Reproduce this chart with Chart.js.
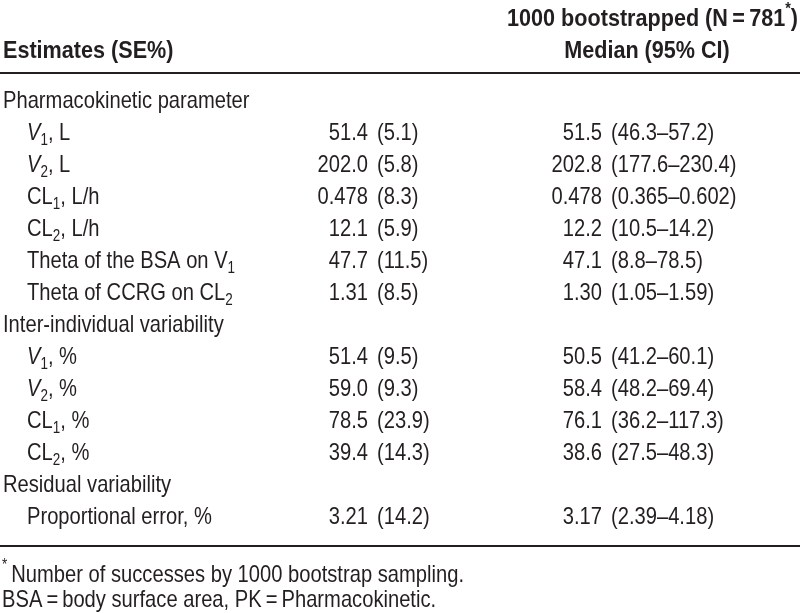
<!DOCTYPE html>
<html>
<head>
<meta charset="utf-8">
<script src="https://cdn.jsdelivr.net/npm/chart.js@4"></script>
<style>
  html, body { margin: 0; padding: 0; background: #fff; }
  #tbl { display: block; }
</style>
</head>
<body>
<canvas id="tbl" width="800" height="613"></canvas>
<script>
// ===== DATA =====
// row label segments: [text, style] style: i = italic, s = subscript
const rowLabels = [
  [["Pharmacokinetic parameter"]],
  [["V", "i"], ["1", "s"], [", L"]],
  [["V", "i"], ["2", "s"], [", L"]],
  [["CL"], ["1", "s"], [", L/h"]],
  [["CL"], ["2", "s"], [", L/h"]],
  [["Theta of the BSA on V"], ["1", "s"]],
  [["Theta of CCRG on CL"], ["2", "s"]],
  [["Inter-individual variability"]],
  [["V", "i"], ["1", "s"], [", %"]],
  [["V", "i"], ["2", "s"], [", %"]],
  [["CL"], ["1", "s"], [", %"]],
  [["CL"], ["2", "s"], [", %"]],
  [["Residual variability"]],
  [["Proportional error, %"]]
];
const isGroup   = [true, false, false, false, false, false, false, true, false, false, false, false, true, false];
const estimates = [null, 51.4, 202.0, 0.478, 12.1, 47.7, 1.31, null, 51.4, 59.0, 78.5, 39.4, null, 3.21];
const estSE     = [null, 5.1, 5.8, 8.3, 5.9, 11.5, 8.5, null, 9.5, 9.3, 23.9, 14.3, null, 14.2];
const medians   = [null, 51.5, 202.8, 0.478, 12.2, 47.1, 1.30, null, 50.5, 58.4, 76.1, 38.6, null, 3.17];
const ciLow     = [null, 46.3, 177.6, 0.365, 10.5, 8.8, 1.05, null, 41.2, 48.2, 36.2, 27.5, null, 2.39];
const ciHigh    = [null, 57.2, 230.4, 0.602, 14.2, 78.5, 1.59, null, 60.1, 69.4, 117.3, 48.3, null, 4.18];
const decimals  = [0, 1, 1, 3, 1, 1, 2, 0, 1, 1, 1, 1, 0, 2];

const colHeads = ["Estimates (SE%)", "1000 bootstrapped (N\u2009=\u2009781", "Median (95% CI)"];
const footnotes = ["Number of successes by 1000 bootstrap sampling.", "BSA\u2009=\u2009body surface area, PK\u2009=\u2009Pharmacokinetic."];

// ===== LAYOUT =====
const FONT = '"Liberation Sans", Arial, sans-serif';
const SIZE = 24;
const SQUEEZE = 0.84;        // narrow the face so it reads like a condensed grotesque
const SQUEEZE_BOLD = 0.9;
const ROW_H = 32;
const FIRST_ROW = 99;
const COL_X = [3, 27, 377, 611];   // group label, indented label, "(" of col 2, "(" of col 3
const GAP = 9;

function fnt(style, size) {
  const it = style.includes("i") ? "italic " : "";
  const b = style.includes("b") ? "bold " : "";
  return it + b + size + "px " + FONT;
}

function segWidth(ctx, segs, base, sq) {
  let w = 0;
  segs.forEach(([t, st]) => {
    const small = st.includes("s") || st.includes("u");
    ctx.font = fnt(st, small ? Math.round(base * 0.68) : base);
    w += ctx.measureText(t).width;
  });
  return w * sq;
}
// draws rich text centred vertically on y; returns width
function drawSegs(ctx, segs, x, y, base, align, bold) {
  segs = segs.map(([t, st]) => [t, (st || "") + (bold ? "b" : "")]);
  const sq = bold ? SQUEEZE_BOLD : SQUEEZE;
  const w = segWidth(ctx, segs, base, sq);
  const cx = align === "right" ? x - w : align === "center" ? x - w / 2 : x;
  ctx.save();
  ctx.translate(cx, y);
  ctx.scale(sq, 1);
  ctx.textAlign = "left";
  ctx.textBaseline = "alphabetic";
  let px = 0;
  segs.forEach(([t, st]) => {
    const sub = st.includes("s"), sup = st.includes("u");
    const size = sub || sup ? Math.round(base * 0.68) : base;
    ctx.font = fnt(st, size);
    const dy = sub ? base * 0.22 : sup ? -base * 0.5 : 0;
    ctx.fillText(t, px, base * 0.36 + dy);
    px += ctx.measureText(t).width;
  });
  ctx.restore();
  return w;
}
function fmt(v, d) { return v.toFixed(d); }

// value "(…)" pair aligned on the opening bracket at x
function drawPair(ctx, num, paren, x, y) {
  drawSegs(ctx, [[num]], x - GAP, y, SIZE, "right");
  drawSegs(ctx, [[paren]], x, y, SIZE, "left");
}

const tablePlugin = {
  id: "tablePlugin",
  afterDatasetsDraw(chart) {
    const ctx = chart.ctx;
    const ys = chart.scales.y;
    const area = chart.chartArea;
    ctx.fillStyle = "#231f20";
    ctx.strokeStyle = "#231f20";

    // header
    const h1 = area.top - 66, h2 = area.top - 34;
    drawSegs(ctx, [[colHeads[0]]], COL_X[0], h2, SIZE, "left", true);
    drawSegs(ctx, [[colHeads[1]], ["*", "u"], [")"]], 798, h1, SIZE, "right", true);
    drawSegs(ctx, [[colHeads[2]]], 647, h2, SIZE, "center", true);

    ctx.lineWidth = 2;
    ctx.beginPath();
    ctx.moveTo(0, area.top - 10); ctx.lineTo(800, area.top - 10);
    ctx.stroke();

    // cells from dataset elements
    chart.data.datasets.forEach((ds, di) => {
      const meta = chart.getDatasetMeta(di);
      meta.data.forEach((el, i) => {
        const r = ds.data[i].y;
        if (di === 0) {
          drawSegs(ctx, rowLabels[r], el.x, el.y, SIZE, "left");
        } else if (di === 1) {
          drawPair(ctx, fmt(estimates[r], decimals[r]), "(" + fmt(estSE[r], 1) + ")", el.x, el.y);
        } else {
          drawPair(ctx, fmt(medians[r], decimals[r]),
            "(" + fmt(ciLow[r], decimals[r]) + "\u2013" + fmt(ciHigh[r], decimals[r]) + ")", el.x, el.y);
        }
      });
    });

    // bottom rule + footnotes
    const last = ys.getPixelForValue(rowLabels.length - 1);
    ctx.beginPath();
    ctx.moveTo(0, last + 31); ctx.lineTo(800, last + 31);
    ctx.stroke();
    drawSegs(ctx, [["*", "u"], ["\u2009" + footnotes[0]]], 2, last + 58, SIZE, "left");
    drawSegs(ctx, [[footnotes[1]]], 2, last + 83, SIZE, "left");
  }
};

const rowIdx = rowLabels.map((_, i) => i);
const valueRows = rowIdx.filter(i => !isGroup[i]);

new Chart(document.getElementById("tbl"), {
  type: "scatter",
  data: {
    datasets: [
      { label: "label", data: rowIdx.map(i => ({ x: isGroup[i] ? COL_X[0] : COL_X[1], y: i })) },
      { label: "estimate", data: valueRows.map(i => ({ x: COL_X[2], y: i })) },
      { label: "bootstrap", data: valueRows.map(i => ({ x: COL_X[3], y: i })) }
    ]
  },
  options: {
    responsive: false,
    animation: false,
    devicePixelRatio: 1,
    layout: { padding: { left: 0, right: 0, top: FIRST_ROW - ROW_H / 2, bottom: 613 - (FIRST_ROW - ROW_H / 2) - ROW_H * rowLabels.length } },
    elements: { point: { radius: 0, hoverRadius: 0 } },
    plugins: { legend: { display: false }, tooltip: { enabled: false } },
    scales: {
      x: { type: "linear", min: 0, max: 800, display: false },
      y: { type: "category", labels: rowIdx, offset: true, display: false }
    }
  },
  plugins: [tablePlugin]
});
</script>
</body>
</html>
